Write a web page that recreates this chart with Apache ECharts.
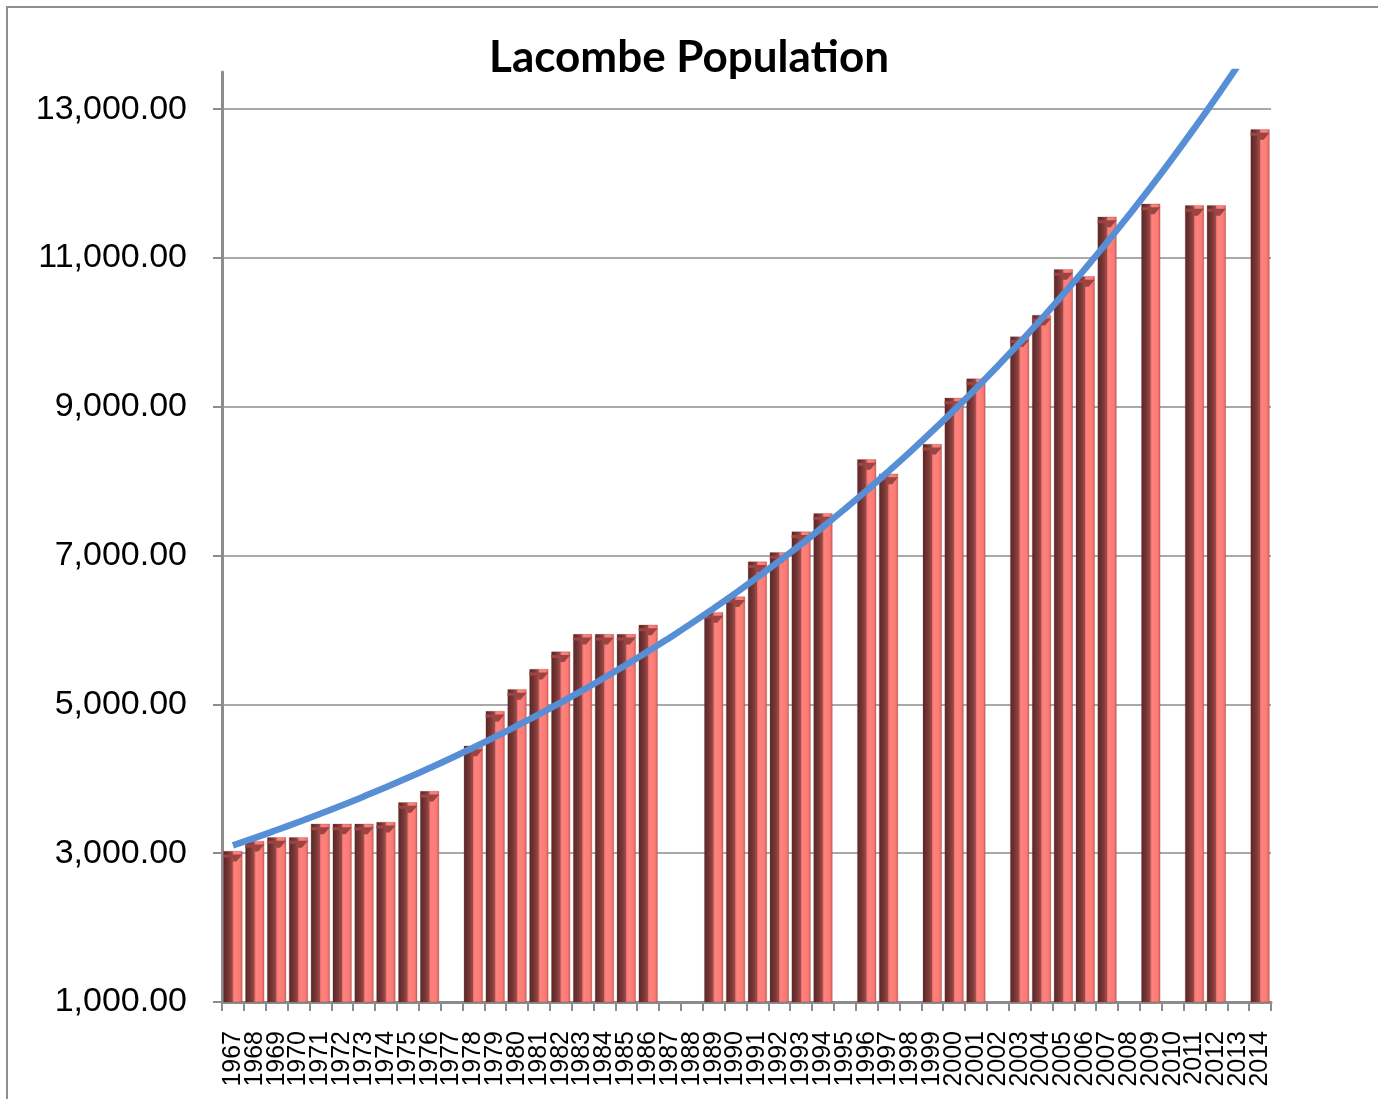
<!DOCTYPE html>
<html>
<head>
<meta charset="utf-8">
<title>Lacombe Population</title>
<script src="https://cdn.jsdelivr.net/npm/echarts@6/dist/echarts.min.js"></script>
<style>
    html, body { margin: 0; padding: 0; background: #fff; }
    #chart { width: 1378px; height: 1099px; }
    .frame {
        position: absolute;
        left: 6px;
        top: 6px;
        right: 0;
        bottom: 0;
        border-left: 2px solid #8e8e8e;
        border-top: 2px solid #8e8e8e;
        pointer-events: none;
    }
</style>
</head>
<body>
<div id="chart"></div>
<div class="frame"></div>
<script>
// census years on the category axis
const years = [
    '1967', '1968', '1969', '1970', '1971', '1972', '1973', '1974', '1975', '1976',
    '1977', '1978', '1979', '1980', '1981', '1982', '1983', '1984', '1985', '1986',
    '1987', '1988', '1989', '1990', '1991', '1992', '1993', '1994', '1995', '1996',
    '1997', '1998', '1999', '2000', '2001', '2002', '2003', '2004', '2005', '2006',
    '2007', '2008', '2009', '2010', '2011', '2012', '2013', '2014',
]

// population per year, null where no count was taken
const population = [
    3030, 3165, 3215, 3215, 3395, 3395, 3395, 3420, 3685, 3835,
    null, 4445, 4910, 5205, 5475, 5710, 5945, 5945, 5945, 6070,
    null, null, 6240, 6450, 6920, 7045, 7325, 7570, null, 8295,
    8100, null, 8500, 9120, 9380, null, 9945, 10235, 10850, 10755,
    11555, null, 11730, null, 11710, 11710, null, 12730,
]

// exponential trend line per year
const trend = [
    3105, 3206, 3311, 3419, 3530, 3645, 3764, 3887, 4014, 4145,
    4280, 4420, 4564, 4713, 4866, 5025, 5189, 5358, 5533, 5713,
    5900, 6092, 6291, 6496, 6708, 6927, 7153, 7386, 7627, 7876,
    8133, 8398, 8672, 8955, 9247, 9549, 9860, 10182, 10514, 10857,
    11211, 11577, 11954, 12344, 12747, 13163, 13592, 14036,
]

const yMin = 1000
const yMax = 13500
const yStep = 2000

const chart = echarts.init(document.getElementById('chart'))

const barFill = new echarts.graphic.LinearGradient(0, 0, 1, 0, [
    { offset: 0, color: '#5a2525' },
    { offset: 0.3, color: '#7b3938' },
    { offset: 0.47, color: '#9e4b49' },
    { offset: 0.5, color: '#e46f6a' },
    { offset: 0.58, color: '#ff827d' },
    { offset: 0.86, color: '#fa7b76' },
    { offset: 1, color: '#d65b56' },
])

chart.setOption({
    animation: false,
    title: {
        text: 'Lacombe Population',
        left: 'center',
        top: 31,
        textStyle: {
            fontFamily: 'Lato',
            fontWeight: 'bold',
            fontSize: 44,
            color: '#000',
        },
    },
    grid: {
        left: 222,
        right: 107,
        top: 72,
        bottom: 97,
        containLabel: false,
    },
    xAxis: {
        type: 'category',
        data: years,
        boundaryGap: true,
        axisLine: { lineStyle: { color: '#8c8c8c', width: 3 } },
        axisTick: { show: true, length: 9, interval: 0, lineStyle: { color: '#8c8c8c', width: 2 } },
        axisLabel: {
            interval: 0,
            rotate: 90,
            margin: 29,
            color: '#000',
            fontFamily: 'Liberation Sans',
            fontSize: 25,
        },
        splitLine: { show: false },
    },
    yAxis: {
        type: 'value',
        min: yMin,
        max: yMax,
        interval: yStep,
        axisLine: { show: true, lineStyle: { color: '#8c8c8c', width: 3 } },
        axisTick: { show: true, length: 9, lineStyle: { color: '#8c8c8c', width: 2 } },
        axisLabel: {
            margin: 35,
            color: '#000',
            fontFamily: 'Liberation Sans',
            fontSize: 34,
            showMaxLabel: false,
            formatter: value =>
                value.toLocaleString('en-US', { minimumFractionDigits: 2, maximumFractionDigits: 2 }),
        },
        splitLine: {
            show: true,
            showMinLine: false,
            showMaxLine: false,
            lineStyle: { color: '#8c8c8c', width: 1.5 },
        },
    },
    series: [
        {
            name: 'Population',
            type: 'bar',
            data: population,
            barWidth: 19,
            itemStyle: {
                color: barFill,
                borderColor: 'rgba(120, 50, 48, 0.5)',
                borderWidth: 0.5,
            },
            z: 2,
        },
        {
            name: 'Bevel',
            type: 'pictorialBar',
            data: population,
            symbol: 'path://M0,0 L19,0 L13,7 L9,7 L9,3 L0,3 Z',
            symbolSize: [19, 7],
            symbolPosition: 'end',
            symbolOffset: [0, '50%'],
            itemStyle: { color: '#9c4442' },
            silent: true,
            z: 3,
        },
        {
            name: 'Trend',
            type: 'line',
            data: trend,
            smooth: true,
            showSymbol: false,
            clip: true,
            lineStyle: { color: '#578fd6', width: 6.5 },
            z: 5,
        },
    ],
})
</script>
</body>
</html>
